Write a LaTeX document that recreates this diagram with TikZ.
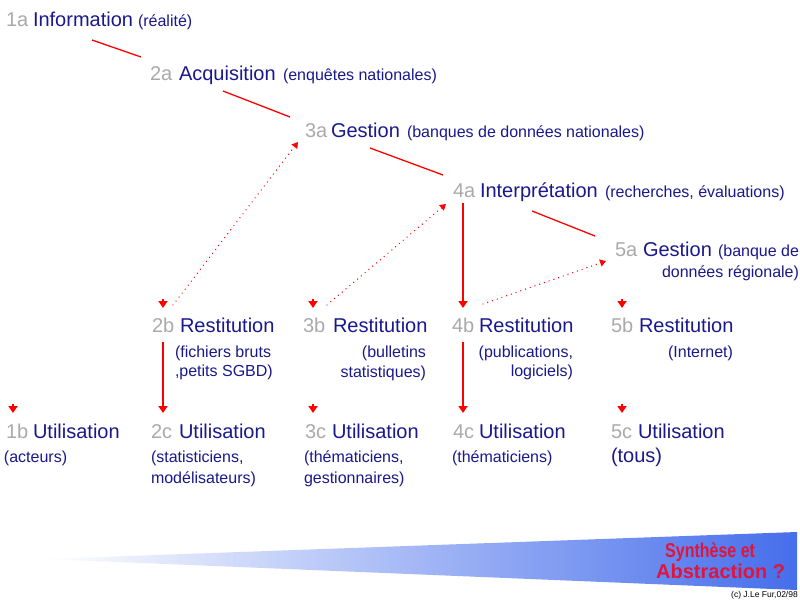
\documentclass[tikz,border=0pt]{standalone}
\usepackage{fontspec}
\setmainfont{Liberation Sans}
\usetikzlibrary{arrows.meta}
\definecolor{navy}{RGB}{25,25,140}
\definecolor{numgray}{RGB}{170,170,170}
\definecolor{wedge}{RGB}{70,110,235}
\definecolor{crim}{RGB}{225,20,60}
\begin{document}
\begin{tikzpicture}[x=1pt,y=-1pt,
 num/.style={anchor=base west,inner sep=0pt,outer sep=0pt,text=numgray,font=\fontsize{20}{24}\selectfont},
 big/.style={anchor=base west,inner sep=0pt,outer sep=0pt,text=navy,font=\fontsize{20}{24}\selectfont},
 sm/.style={anchor=base west,inner sep=0pt,outer sep=0pt,text=navy,font=\fontsize{16}{19}\selectfont},
 smr/.style={sm,anchor=base east},
 link/.style={draw=red,line width=1.3pt},
 dotarrow/.style={draw=red,line width=1.4pt,line cap=round,dash pattern=on 0pt off 5pt,-{Triangle[width=7pt,length=6pt]}},
 thickarrow/.style={draw=red,line width=2pt,-{Triangle[width=9pt,length=7pt]}},
 stub/.style={draw=red,line width=2pt,-{Triangle[width=9pt,length=7pt]}},
]
\useasboundingbox (0,0) rectangle (800,600);
\fill[white] (0,0) rectangle (800,600);

% wedge
\shade[left color=white,right color=wedge] (45,559) -- (797,532) -- (797,590) -- cycle;
\node[anchor=base west,inner sep=0pt,text=crim,font=\bfseries\fontsize{20}{24}\selectfont] (syn) at (665,557) {\scalebox{0.8}[1]{Synthèse et}};
\node[anchor=base west,inner sep=0pt,text=crim,font=\bfseries\fontsize{20}{24}\selectfont] (abs) at (656,578) {Abstraction ?};
\node[anchor=base east,inner sep=0pt,font=\fontsize{8.5}{10}\selectfont] (copy) at (798,597) {(c) J.Le Fur,02/98};

% row a
\node[num] (n1a) at (6,26) {1a};
\node[big] (w1a) at (33,26) {Information};
\node[sm] (p1a) at (138,26) {(réalité)};
\node[num] (n2a) at (150,80) {2a};
\node[big] (w2a) at (179,80) {Acquisition};
\node[sm] (p2a) at (283,80) {(enquêtes nationales)};
\node[num] (n3a) at (305,137) {3a};
\node[big] (w3a) at (331,137) {Gestion};
\node[sm] (p3a) at (407,137) {(banques de données nationales)};
\node[num] (n4a) at (453,197) {4a};
\node[big] (w4a) at (480,197) {Interprétation};
\node[sm] (p4a) at (605,197) {(recherches, évaluations)};
\node[num] (n5a) at (615,256) {5a};
\node[big] (w5a) at (643,256) {Gestion};
\node[smr] (p5a) at (799,256) {(banque de};
\node[smr] (p5a2) at (799,277) {données régionale)};

% row b
\node[num] (n2b) at (152,332) {2b};
\node[big] (w2b) at (180,332) {Restitution};
\node[sm] (p2b) at (175,357) {(fichiers bruts};
\node[sm] (p2b2) at (175,376) {,petits SGBD)};
\node[num] (n3b) at (303,332) {3b};
\node[big] (w3b) at (333,332) {Restitution};
\node[smr] (p3b) at (426,357) {(bulletins};
\node[smr] (p3b2) at (426,377) {statistiques)};
\node[num] (n4b) at (452,332) {4b};
\node[big] (w4b) at (479,332) {Restitution};
\node[smr] (p4b) at (573,357) {(publications,};
\node[smr] (p4b2) at (573,376) {logiciels)};
\node[num] (n5b) at (611,332) {5b};
\node[big] (w5b) at (639,332) {Restitution};
\node[smr] (p5b) at (733,357) {(Internet)};

% row c
\node[num] (n1c) at (6,438) {1b};
\node[big] (w1c) at (33,438) {Utilisation};
\node[sm] (p1c) at (4,462) {(acteurs)};
\node[num] (n2c) at (151,438) {2c};
\node[big] (w2c) at (179,438) {Utilisation};
\node[sm] (p2c) at (151,462) {(statisticiens,};
\node[sm] (p2c2) at (151,483) {modélisateurs)};
\node[num] (n3c) at (305,438) {3c};
\node[big] (w3c) at (332,438) {Utilisation};
\node[sm] (p3c) at (304,462) {(thématiciens,};
\node[sm] (p3c2) at (304,483) {gestionnaires)};
\node[num] (n4c) at (453,438) {4c};
\node[big] (w4c) at (479,438) {Utilisation};
\node[sm] (p4c) at (452,462) {(thématiciens)};
\node[num] (n5c) at (611,438) {5c};
\node[big] (w5c) at (638,438) {Utilisation};
\node[big] (p5c) at (611,462) {(tous)};

% connector end points
\coordinate (l1s) at (92,40);   \coordinate (l1e) at (141,57);
\coordinate (l2s) at (223,91);  \coordinate (l2e) at (290,117);
\coordinate (l3s) at (370,148); \coordinate (l3e) at (443,175);
\coordinate (l4s) at (532,211); \coordinate (l4e) at (595,236);
\coordinate (d1s) at (173,305); \coordinate (d1e) at (298,142);
\coordinate (d2s) at (327,305); \coordinate (d2e) at (446,204);
\coordinate (d3s) at (483,304); \coordinate (d3e) at (606,261);
\coordinate (v1s) at (463,203); \coordinate (v1e) at (463,308);
\coordinate (v2s) at (163,342); \coordinate (v2e) at (163,413);
\coordinate (v3s) at (463,342); \coordinate (v3e) at (463,413);
\coordinate (a2b) at (163,308); \coordinate (a3b) at (313,308);
\coordinate (a5b) at (622,308); \coordinate (a1c) at (13,413);
\coordinate (a3c) at (313,413); \coordinate (a5c) at (622,413);

% solid chain a
\draw[link] (l1s) -- (l1e);
\draw[link] (l2s) -- (l2e);
\draw[link] (l3s) -- (l3e);
\draw[link] (l4s) -- (l4e);

% dotted return arrows
\draw[dotarrow] (d1s) -- (d1e);
\draw[dotarrow] (d2s) -- (d2e);
\draw[dotarrow] (d3s) -- (d3e);

% thick vertical arrows
\draw[thickarrow] (v1s) -- (v1e);
\draw[thickarrow] (v2s) -- (v2e);
\draw[thickarrow] (v3s) -- (v3e);

% isolated arrow heads
\foreach \c in {a2b,a3b,a5b,a1c,a3c,a5c}
  \draw[stub] ([yshift=9pt]\c) -- (\c);
\end{tikzpicture}
\end{document}
